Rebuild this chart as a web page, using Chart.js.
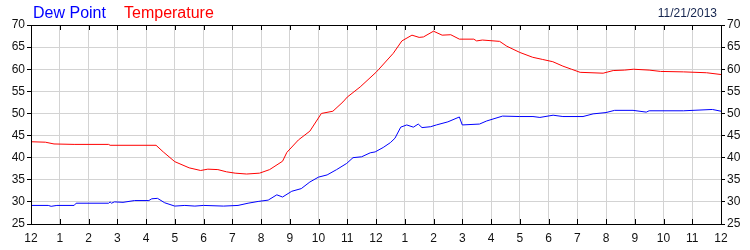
<!DOCTYPE html>
<html>
<head>
<meta charset="utf-8">
<script src="https://cdn.jsdelivr.net/npm/chart.js@4/dist/chart.umd.min.js"></script>
<style>
  html, body { margin: 0; padding: 0; background: #fff; }
  #wrap { width: 750px; height: 250px; }
</style>
</head>
<body>
<div id="wrap"><canvas id="mainChart" width="750" height="250"></canvas></div>
<script>
// Readings (hours after midnight, degrees F)
const tempHours = [0, 0.5, 0.8, 1.5, 2.7, 2.75, 4.35, 4.6, 5.0, 5.5, 5.9, 6.15, 6.5, 6.8, 7.1, 7.5, 7.95,
  8.3, 8.75, 8.9, 9.3, 9.7, 10.1, 10.5, 10.85, 11.0, 11.45, 12.0, 12.1, 12.6, 12.9, 13.25, 13.5, 13.65,
  14.0, 14.3, 14.6, 14.9, 15.4, 15.5, 15.7, 16.3, 16.55, 17.0, 17.45, 17.8, 18.15, 18.5, 18.8, 19.1,
  19.9, 20.25, 20.65, 20.95, 21.5, 21.9, 22.7, 23.5, 24.0];
const tempValues = [43.6, 43.5, 43.1, 43.0, 43.0, 42.8, 42.8, 41.3, 39.1, 37.7, 37.1, 37.4, 37.3, 36.8, 36.5, 36.3, 36.5,
  37.3, 39.2, 41.2, 44.0, 46.0, 50.0, 50.5, 52.6, 53.7, 56.0, 59.3, 60.0, 63.6, 66.4, 67.7, 67.2, 67.3,
  68.6, 67.7, 67.8, 66.8, 66.8, 66.4, 66.6, 66.3, 65.2, 63.8, 62.7, 62.2, 61.7, 60.7, 60.0, 59.3,
  59.1, 59.7, 59.8, 60.0, 59.8, 59.5, 59.4, 59.2, 58.8];

const dewHours = [0, 0.6, 0.7, 0.9, 1.5, 1.57, 2.7, 2.75, 2.8, 2.9, 3.2, 3.6, 4.1, 4.2, 4.4, 4.65, 5.0,
  5.35, 5.7, 6.0, 6.7, 7.2, 7.55, 7.9, 8.25, 8.55, 8.75, 9.07, 9.4, 9.7, 10.0, 10.3, 10.63, 10.98,
  11.2, 11.5, 11.8, 11.97, 12.25, 12.5, 12.66, 12.86, 13.07, 13.3, 13.47, 13.6, 13.9, 14.1, 14.5, 14.9,
  15.0, 15.6, 15.85, 16.4, 17.0, 17.46, 17.7, 18.16, 18.5, 19.2, 19.55, 20.0, 20.3, 20.94, 21.4, 21.5,
  22.7, 23.7, 24.0];
const dewValues = [29.2, 29.2, 29.0, 29.2, 29.2, 29.7, 29.7, 30.0, 29.7, 30.0, 29.9, 30.3, 30.3, 30.7, 30.8, 29.8, 29.05,
  29.2, 29.05, 29.2, 29.05, 29.2, 29.7, 30.1, 30.4, 31.6, 31.1, 32.4, 33.0, 34.5, 35.6, 36.1, 37.3, 38.7,
  40.0, 40.2, 41.1, 41.3, 42.3, 43.4, 44.4, 46.9, 47.4, 46.9, 47.6, 46.8, 47.0, 47.4, 48.1, 49.2,
  47.4, 47.6, 48.3, 49.4, 49.3, 49.3, 49.1, 49.6, 49.3, 49.3, 49.9, 50.2, 50.7, 50.7, 50.3, 50.6,
  50.6, 50.9, 50.5];

const hourLabels = ['12', '1', '2', '3', '4', '5', '6', '7', '8', '9', '10', '11',
  '12', '1', '2', '3', '4', '5', '6', '7', '8', '9', '10', '11', '12'];
const yMin = 25, yMax = 70, yStep = 5;
const dateText = '11/21/2013';

const FONT = 'Arial, "Liberation Sans", sans-serif';

const toPoints = (xs, ys) => xs.map((x, i) => ({ x: x, y: ys[i] }));

// frame, inward hour ticks and header texts
const framePlugin = {
  id: 'frame',
  afterDraw(chart) {
    const { ctx, chartArea: a, scales } = chart;
    ctx.save();
    ctx.strokeStyle = '#000';
    ctx.lineWidth = 1;
    ctx.beginPath();
    ctx.rect(Math.round(a.left) + 0.5, Math.round(a.top) + 0.5,
      Math.round(a.right - a.left), Math.round(a.bottom - a.top));
    for (let h = 0; h <= 24; h++) {
      const px = Math.round(scales.x.getPixelForValue(h)) + 0.5;
      ctx.moveTo(px, a.top); ctx.lineTo(px, a.top + 5);
      ctx.moveTo(px, a.bottom); ctx.lineTo(px, a.bottom - 5);
    }
    ctx.stroke();

    ctx.font = '16px ' + FONT;
    ctx.textBaseline = 'alphabetic';
    ctx.textAlign = 'left';
    ctx.fillStyle = '#0000ff';
    ctx.fillText('Dew Point', 33, 18);
    ctx.fillStyle = '#ff0000';
    ctx.fillText('Temperature', 124, 18);

    ctx.font = '12px ' + FONT;
    ctx.textAlign = 'right';
    ctx.fillStyle = '#14244e';
    ctx.fillText(dateText, 717, 17);
    ctx.restore();
  }
};

const yAxis = (pos, width) => ({
  type: 'linear',
  position: pos,
  min: yMin,
  max: yMax,
  afterFit: s => { s.width = width; },
  border: { display: true, color: '#000', width: 1 },
  grid: { display: true, drawOnChartArea: pos === 'left', color: '#d3d3d3', tickColor: '#000', tickLength: 4, lineWidth: 1 },
  ticks: { stepSize: yStep, color: '#111', padding: 2, font: { family: FONT, size: 12 } }
});

new Chart(document.getElementById('mainChart').getContext('2d'), {
  type: 'line',
  data: {
    datasets: [
      { label: 'Temperature', data: toPoints(tempHours, tempValues), borderColor: '#ff0000', borderWidth: 1, pointRadius: 0, tension: 0, yAxisID: 'y' },
      { label: 'Dew Point', data: toPoints(dewHours, dewValues), borderColor: '#0000ff', borderWidth: 1, pointRadius: 0, tension: 0, yAxisID: 'y' }
    ]
  },
  options: {
    responsive: false,
    animation: false,
    layout: { padding: { top: 25, left: 0, right: 0, bottom: 0 } },
    plugins: { legend: { display: false }, tooltip: { enabled: false } },
    scales: {
      x: {
        type: 'linear',
        min: 0,
        max: 24,
        afterFit: s => { s.height = 26; },
        border: { display: true, color: '#000', width: 1 },
        grid: { color: '#d3d3d3', drawTicks: false, lineWidth: 1 },
        ticks: {
          stepSize: 1,
          autoSkip: false,
          maxRotation: 0,
          padding: 7,
          color: '#111',
          font: { family: FONT, size: 12 },
          callback: v => hourLabels[v]
        }
      },
      y: yAxis('left', 31),
      y2: yAxis('right', 29)
    }
  },
  plugins: [framePlugin]
});
</script>
</body>
</html>
